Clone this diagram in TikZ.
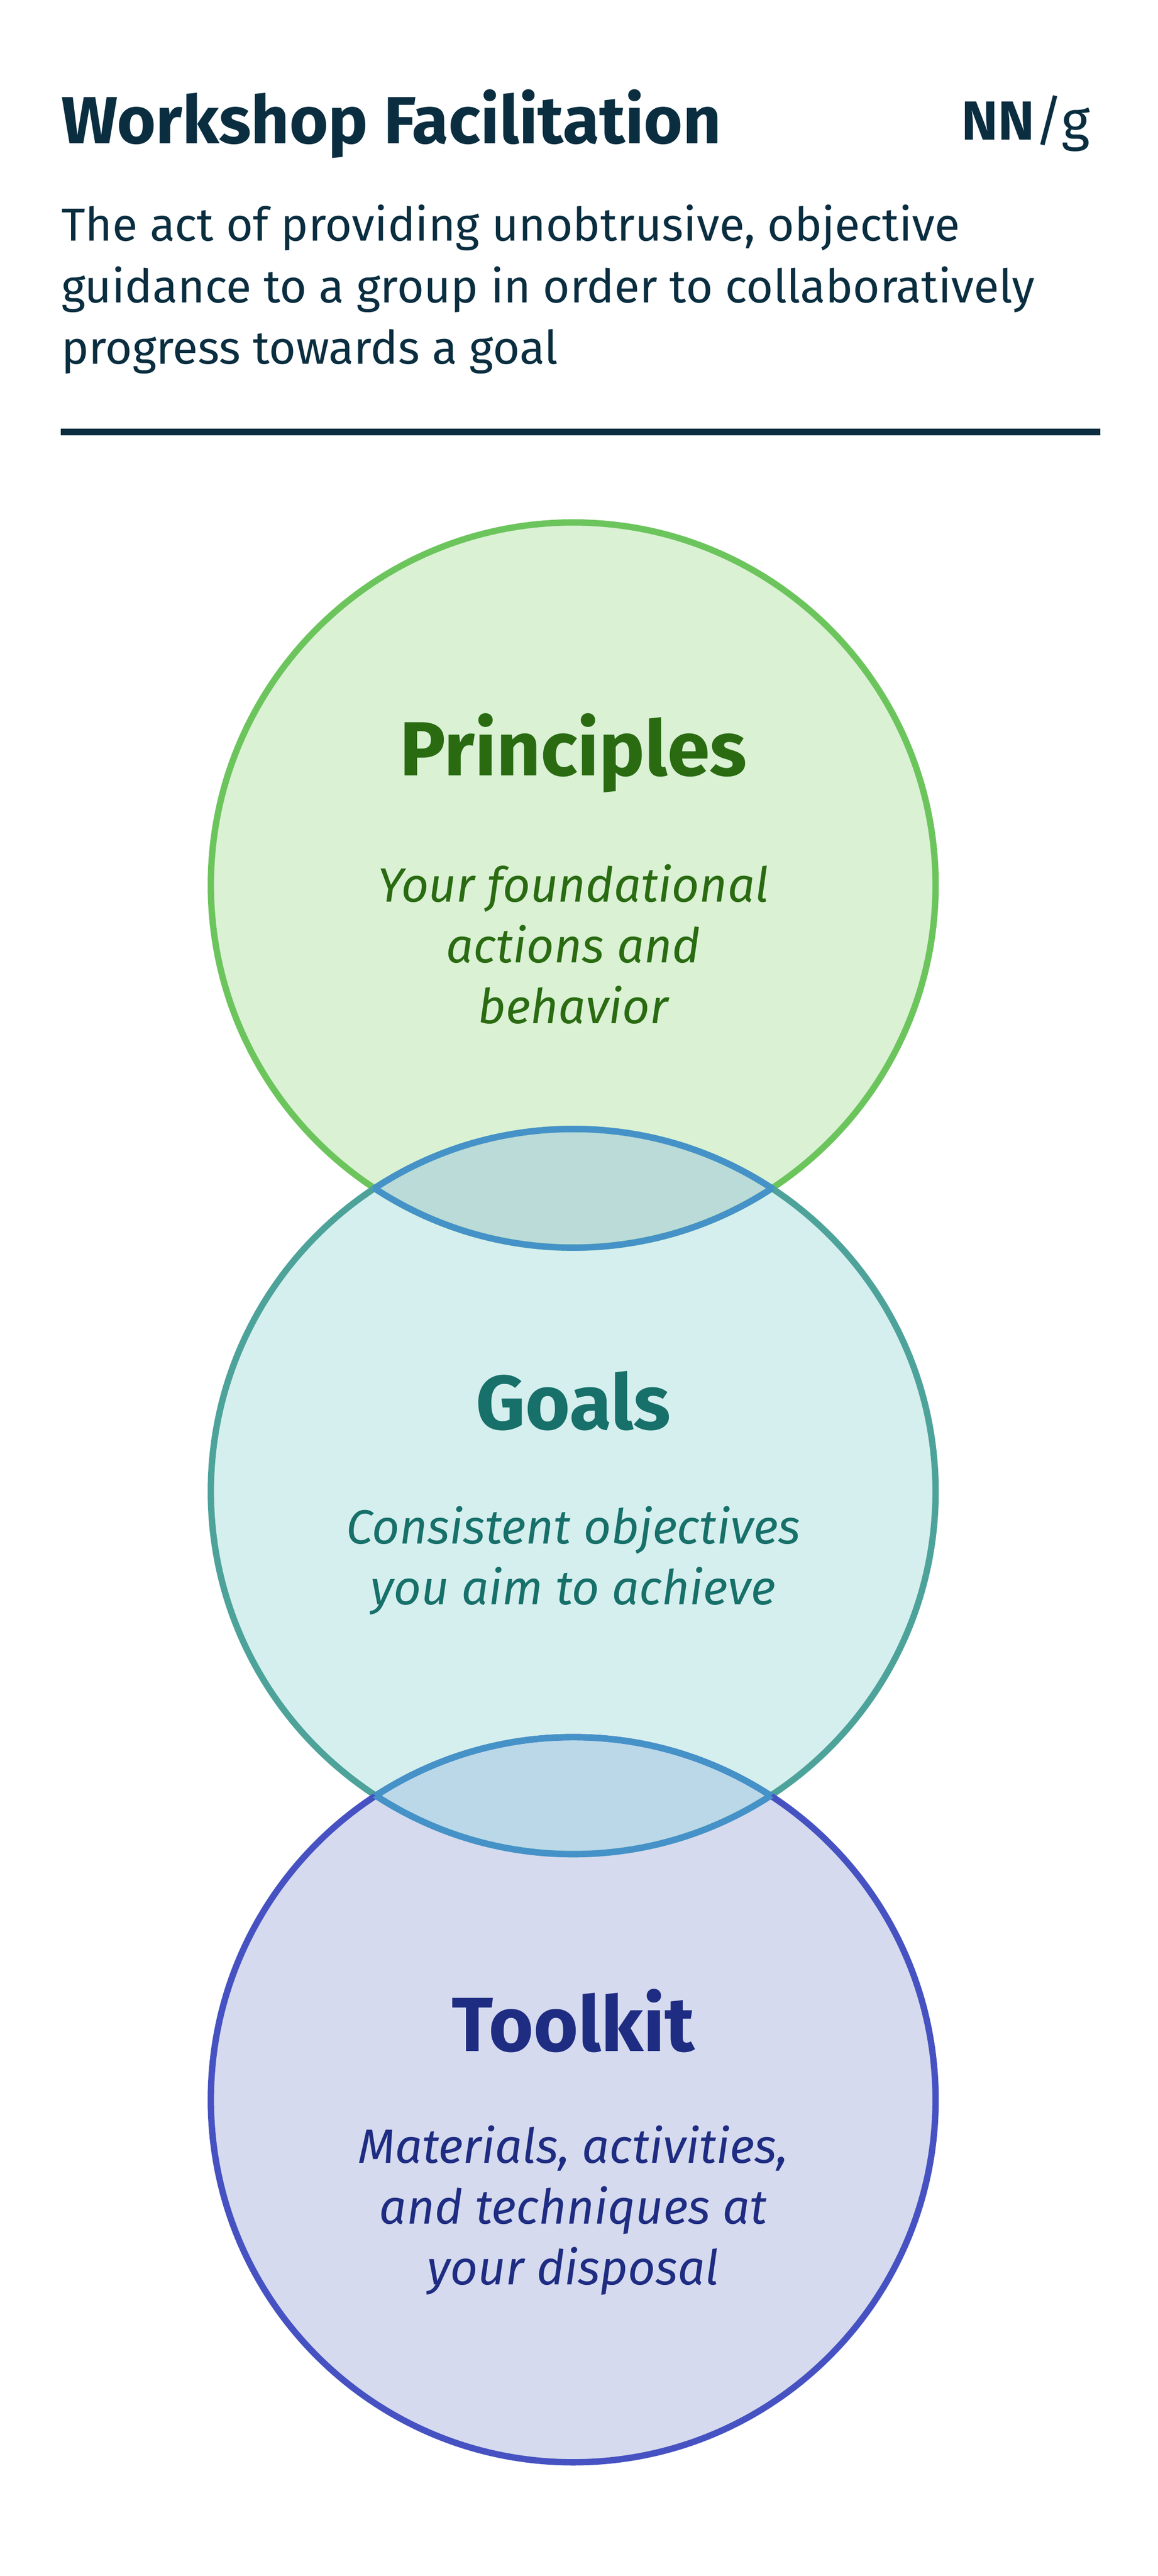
\documentclass[tikz,border=0pt]{standalone}
\usepackage{fontspec}
\setmainfont{Fira Sans}
\usepackage{tikz}
\definecolor{inkcolor}{HTML}{0A2E40}
\definecolor{prinfill}{HTML}{DAF1D4}
\definecolor{prinline}{HTML}{6CC55C}
\definecolor{printext}{HTML}{2A6B12}
\definecolor{goalfill}{HTML}{D5EFEE}
\definecolor{goalline}{HTML}{4DA39A}
\definecolor{goaltext}{HTML}{17706A}
\definecolor{toolfill}{HTML}{D5DAEE}
\definecolor{toolline}{HTML}{4652C2}
\definecolor{tooltext}{HTML}{1E2C82}
\definecolor{lensa}{HTML}{BADBD8}
\definecolor{lensb}{HTML}{BAD8E8}
\definecolor{lensline}{HTML}{4592C8}
\tikzset{
  heading/.style={font=\fontsize{26.5}{30}\selectfont\bfseries},
  blurb/.style={font=\fontsize{16.6}{21}\selectfont\itshape, align=center},
  ring/.style={line width=2.2pt}
}
\begin{document}
\begin{tikzpicture}[x=0.02cm, y=-0.02cm]
  \useasboundingbox[fill=white] (0,0) rectangle (703,1563);
  % Header
  \node[anchor=west, inkcolor, font=\fontsize{23}{26}\selectfont\bfseries] (title) at (31,75) {Workshop Facilitation};
  \node[anchor=east, inkcolor, font=\fontsize{19}{22}\selectfont] (logo) at (668,75) {\textbf{NN}/g};
  \node[anchor=north west, inkcolor, align=left, font=\fontsize{16}{21.3}\selectfont] (sub) at (31,118)
    {The act of providing unobtrusive, objective\\guidance to a group in order to collaboratively\\progress towards a goal};
  \draw[inkcolor, line width=2.3pt] (37,262) -- (668,262);
  % Circles
  \fill[prinfill] (348,537) circle (220);
  \fill[goalfill] (348,905) circle (220);
  \fill[toolfill] (348,1274) circle (220);
  \begin{scope}
    \clip (348,537) circle (220);
    \fill[lensa] (348,905) circle (220);
  \end{scope}
  \begin{scope}
    \clip (348,905) circle (220);
    \fill[lensb] (348,1274) circle (220);
  \end{scope}
  \draw[ring, prinline] (348,537) circle (220);
  \draw[ring, goalline] (348,905) circle (220);
  \draw[ring, toolline] (348,1274) circle (220);
  % Overlap outlines
  \begin{scope}
    \clip (348,537) circle (220);
    \draw[ring, lensline] (348,905) circle (220);
  \end{scope}
  \begin{scope}
    \clip (348,905) circle (220);
    \draw[ring, lensline] (348,537) circle (220);
    \draw[ring, lensline] (348,1274) circle (220);
  \end{scope}
  \begin{scope}
    \clip (348,1274) circle (220);
    \draw[ring, lensline] (348,905) circle (220);
  \end{scope}
  % Labels
  \node[heading, printext] (prin) at (348,457) {Principles};
  \node[blurb, printext] (prinb) at (348,573) {Your foundational\\actions and\\behavior};
  \node[heading, goaltext] (goal) at (348,850) {Goals};
  \node[blurb, goaltext] (goalb) at (348,947) {Consistent objectives\\you aim to achieve};
  \node[heading, tooltext] (tool) at (348,1226) {Toolkit};
  \node[blurb, tooltext] (toolb) at (348,1341) {Materials, activities,\\and techniques at\\your disposal};
\end{tikzpicture}
\end{document}
